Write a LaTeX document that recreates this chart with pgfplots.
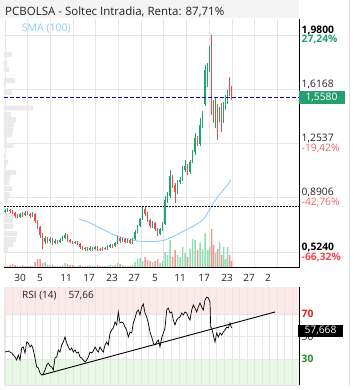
\documentclass[border=0pt]{standalone}
\usepackage{fontspec}
\setmainfont{Open Sans}
\usepackage{pgfplots}
\pgfplotsset{compat=1.18}
\usepackage{pgfplotstable}
\definecolor{cg}{RGB}{30,165,110}
\definecolor{cr}{RGB}{245,75,72}
\definecolor{vg}{RGB}{140,222,178}
\definecolor{vr}{RGB}{246,150,148}
\definecolor{gridc}{RGB}{230,230,230}
\definecolor{profc}{RGB}{234,234,234}
\definecolor{smac}{RGB}{144,202,249}
\definecolor{titlebg}{RGB}{244,244,244}
\definecolor{titletext}{RGB}{34,34,34}
\definecolor{dblue}{RGB}{10,10,210}
\definecolor{pinkband}{RGB}{253,233,234}
\definecolor{greenband}{RGB}{232,250,230}
\definecolor{pctgreen}{RGB}{34,158,110}
\definecolor{pctred}{RGB}{242,100,100}
\definecolor{pctredb}{RGB}{240,70,70}
\definecolor{rsired}{RGB}{230,30,30}
\definecolor{rsigreen}{RGB}{40,140,40}
\definecolor{boxgreen}{RGB}{38,158,112}
\definecolor{bordc}{RGB}{225,225,225}

\pgfplotstableread{
x v
5 1
7.5 1
20 1
25 1
32.5 1
45 5
50 2
55 1
60 1
62.5 2
65 4
75 1
85 1
90 2
95 1
102.5 1
107.5 1
110 2
115 2
117.5 4
122.5 2
127.5 1
132.5 2
135 5
137.5 8
140 9
142.5 6
152.5 5
160 4
162.5 6
165 15
167.5 12
170 27
177.5 12
180 10
182.5 20
185 14
190 18
192.5 28
195 27
200 24
202.5 18
205 34
207.5 17
209.5 20
215.5 14
219.5 25
223.5 20
225.5 8
227.5 20
}\volgreen

\pgfplotstableread{
x v
10 2
12.5 3
15 2
17.5 1
22.5 2
27.5 1
30 1
35 5
37.5 8
40 8
42.5 4
47.5 2
52.5 2
57.5 1
67.5 3
70 2
72.5 2
77.5 1
80 2
82.5 1
87.5 1
92.5 1
97.5 2
100 1
105 1
112.5 1
120 3
125 1
130 1
145 10
147.5 7
150 6
155 6
157.5 8
172.5 10
175 17
187.5 10
197.5 17
211.5 38
213.5 22
217.5 18
221.5 12
229.5 12
231.5 6
}\volred

\pgfplotstableread{
p w
1.849 12
1.789 7
1.749 9
1.675 15
1.645 6
1.594 12
1.490 33
1.447 11
1.413 16
1.380 14
1.343 13
1.309 12
1.276 7
1.239 13
1.165 6
1.128 8
1.098 6
1.057 16
1.024 10
0.990 9
0.950 12
0.910 10
0.870 8
0.816 5
0.769 13
0.735 13
0.695 13
0.648 17
0.608 16
0.574 13
0.541 8
}\profile

\pgfplotsset{
  panel/.style={scale only axis, anchor=south west, xmin=4, xmax=299},
  pricepanel/.style={panel, at={(4pt,-267pt)}, width=295pt, height=248pt, ymin=0.4233, ymax=2.0874},
  rsipanel/.style={panel, at={(4pt,-385pt)}, width=295pt, height=98pt, ymin=6.9, ymax=94},
}

\begin{document}
\begin{tikzpicture}[x=1pt,y=1pt]
\path[use as bounding box] (0,0) rectangle (353,-390);
\fill[titlebg] (0,0) rectangle (299,-18);
\node[anchor=base west,inner sep=0,font=\fontsize{11.5}{13}\selectfont,text=titletext] at (5,-16) {PCBOLSA - Soltec Intradia, Renta: 87,71\%};

% grid + volume profile
\begin{axis}[pricepanel,
  axis line style={draw=none}, tick style={draw=none},
  major tick length=0pt, minor tick length=0pt,
  xtick={20,40,66,89,112,134,155,180,204,227,249,268},
  xticklabels={30,5,11,17,23,27,5,11,17,23,27,2},
  minor xtick={5,27.692,...,299}, xminorgrids,
  ytick={0.524,0.8906,1.2537,1.6168,1.98}, yticklabels={}, ymajorgrids,
  grid style={draw=gridc, line width=0.8pt},
  minor grid style={draw=gridc, line width=0.8pt},
  xticklabel style={font=\fontsize{10}{12}\selectfont, text=titletext, yshift=-3.5pt},
]
\addplot[xbar, bar width=0.033, bar shift=0pt, fill=profc, draw=none] table[x=w,y=p] {\profile};
\end{axis}

% volume
\begin{axis}[panel, at={(4pt,-267pt)}, width=295pt, height=248pt, ymin=0, ymax=248, hide axis]
\addplot[ybar, bar width=1.5, bar shift=0pt, fill=vg, draw=none] table[x=x,y=v] {\volgreen};
\addplot[ybar, bar width=1.5, bar shift=0pt, fill=vr, draw=none] table[x=x,y=v] {\volred};
\end{axis}

% price
\begin{axis}[pricepanel, hide axis, clip=false, unbounded coords=jump]
\addplot[smac, line width=0.9pt, smooth, tension=0.5] coordinates {(79,0.745)(90,0.719)(100,0.685)(110,0.652)(120,0.625)(130,0.611)(137,0.598)(147,0.594)(155,0.594)(163,0.601)(170,0.618)(180,0.652)(190,0.685)(200,0.725)(205,0.759)(210,0.812)(215,0.866)(220,0.913)(225,0.953)(231,1.007)};
\addplot[black, line width=0.8pt, dash pattern=on 1.5pt off 1.5pt] coordinates {(4,0.833) (299,0.833)};
% green wicks (low-high)
\addplot[draw=cg, line width=0.7pt, mark=none] coordinates {
(5,0.786)(5,0.812)(5,nan)
(7.5,0.792)(7.5,0.819)(7.5,nan)
(20,0.752)(20,0.786)(20,nan)
(25,0.766)(25,0.799)(25,nan)
(32.5,0.759)(32.5,0.792)(32.5,nan)
(45,0.578)(45,0.631)(45,nan)
(50,0.584)(50,0.625)(50,nan)
(55,0.578)(55,0.611)(55,nan)
(60,0.584)(60,0.618)(60,nan)
(62.5,0.598)(62.5,0.631)(62.5,nan)
(65,0.611)(65,0.652)(65,nan)
(75,0.578)(75,0.598)(75,nan)
(85,0.531)(85,0.558)(85,nan)
(90,0.531)(90,0.564)(90,nan)
(95,0.537)(95,0.564)(95,nan)
(102.5,0.531)(102.5,0.558)(102.5,nan)
(107.5,0.537)(107.5,0.571)(107.5,nan)
(110,0.551)(110,0.578)(110,nan)
(115,0.558)(115,0.591)(115,nan)
(117.5,0.578)(117.5,0.631)(117.5,nan)
(122.5,0.591)(122.5,0.618)(122.5,nan)
(127.5,0.584)(127.5,0.611)(127.5,nan)
(132.5,0.578)(132.5,0.618)(132.5,nan)
(135,0.605)(135,0.672)(135,nan)
(137.5,0.652)(137.5,0.705)(137.5,nan)
(140,0.692)(140,0.752)(140,nan)
(142.5,0.739)(142.5,0.826)(142.5,nan)
(152.5,0.685)(152.5,0.732)(152.5,nan)
(160,0.638)(160,0.685)(160,nan)
(162.5,0.665)(162.5,0.725)(162.5,nan)
(165,0.705)(165,0.900)(165,nan)
(167.5,0.853)(167.5,0.927)(167.5,nan)
(170,0.886)(170,1.074)(170,nan)
(177.5,0.913)(177.5,1.007)(177.5,nan)
(180,0.980)(180,1.027)(180,nan)
(182.5,1.000)(182.5,1.101)(182.5,nan)
(185,1.061)(185,1.141)(185,nan)
(190,1.047)(190,1.141)(190,nan)
(192.5,1.121)(192.5,1.208)(192.5,nan)
(195,1.175)(195,1.322)(195,nan)
(200,1.235)(200,1.423)(200,nan)
(202.5,1.356)(202.5,1.470)(202.5,nan)
(205,1.504)(205,1.779)(205,nan)
(207.5,1.631)(207.5,1.792)(207.5,nan)
(209.5,1.732)(209.5,1.906)(209.5,nan)
(215.5,1.356)(215.5,1.557)(215.5,nan)
(219.5,1.396)(219.5,1.497)(219.5,nan)
(223.5,1.390)(223.5,1.531)(223.5,nan)
(225.5,1.477)(225.5,1.577)(225.5,nan)
(227.5,1.517)(227.5,1.611)(227.5,nan)};
% red wicks (low-high)
\addplot[draw=cr, line width=0.7pt, mark=none] coordinates {
(10,0.786)(10,0.812)(10,nan)
(12.5,0.779)(12.5,0.806)(12.5,nan)
(15,0.752)(15,0.792)(15,nan)
(17.5,0.752)(17.5,0.779)(17.5,nan)
(22.5,0.759)(22.5,0.792)(22.5,nan)
(27.5,0.772)(27.5,0.799)(27.5,nan)
(30,0.752)(30,0.786)(30,nan)
(35,0.719)(35,0.786)(35,nan)
(37.5,0.678)(37.5,0.739)(37.5,nan)
(40,0.618)(40,0.698)(40,nan)
(42.5,0.544)(42.5,0.652)(42.5,nan)
(47.5,0.584)(47.5,0.625)(47.5,nan)
(52.5,0.571)(52.5,0.618)(52.5,nan)
(57.5,0.578)(57.5,0.605)(57.5,nan)
(67.5,0.591)(67.5,0.645)(67.5,nan)
(70,0.584)(70,0.611)(70,nan)
(72.5,0.578)(72.5,0.598)(72.5,nan)
(77.5,0.571)(77.5,0.598)(77.5,nan)
(80,0.544)(80,0.584)(80,nan)
(82.5,0.537)(82.5,0.564)(82.5,nan)
(87.5,0.531)(87.5,0.558)(87.5,nan)
(92.5,0.531)(92.5,0.558)(92.5,nan)
(97.5,0.531)(97.5,0.564)(97.5,nan)
(100,0.531)(100,0.551)(100,nan)
(105,0.537)(105,0.558)(105,nan)
(112.5,0.551)(112.5,0.578)(112.5,nan)
(120,0.584)(120,0.625)(120,nan)
(125,0.584)(125,0.618)(125,nan)
(130,0.578)(130,0.611)(130,nan)
(145,0.766)(145,0.826)(145,nan)
(147.5,0.725)(147.5,0.792)(147.5,nan)
(150,0.685)(150,0.745)(150,nan)
(155,0.665)(155,0.725)(155,nan)
(157.5,0.631)(157.5,0.685)(157.5,nan)
(172.5,0.953)(172.5,1.041)(172.5,nan)
(175,0.853)(175,0.987)(175,nan)
(187.5,1.041)(187.5,1.114)(187.5,nan)
(197.5,1.235)(197.5,1.302)(197.5,nan)
(211.5,1.443)(211.5,1.980)(211.5,nan)
(213.5,1.390)(213.5,1.544)(213.5,nan)
(217.5,1.276)(217.5,1.517)(217.5,nan)
(221.5,1.329)(221.5,1.524)(221.5,nan)
(229.5,1.571)(229.5,1.698)(229.5,nan)
(231.5,1.544)(231.5,1.638)(231.5,nan)};
% green bodies (open-close)
\addplot[draw=cg, line width=1.7pt, mark=none] coordinates {
(5,0.792)(5,0.799)(5,nan)
(7.5,0.799)(7.5,0.806)(7.5,nan)
(20,0.759)(20,0.779)(20,nan)
(25,0.772)(25,0.786)(25,nan)
(32.5,0.766)(32.5,0.779)(32.5,nan)
(45,0.591)(45,0.618)(45,nan)
(50,0.598)(50,0.611)(50,nan)
(55,0.584)(55,0.598)(55,nan)
(60,0.591)(60,0.605)(60,nan)
(62.5,0.605)(62.5,0.618)(62.5,nan)
(65,0.618)(65,0.638)(65,nan)
(75,0.584)(75,0.591)(75,nan)
(85,0.544)(85,0.551)(85,nan)
(90,0.537)(90,0.551)(90,nan)
(95,0.544)(95,0.558)(95,nan)
(102.5,0.537)(102.5,0.551)(102.5,nan)
(107.5,0.544)(107.5,0.558)(107.5,nan)
(110,0.558)(110,0.571)(110,nan)
(115,0.564)(115,0.584)(115,nan)
(117.5,0.584)(117.5,0.618)(117.5,nan)
(122.5,0.598)(122.5,0.611)(122.5,nan)
(127.5,0.591)(127.5,0.605)(127.5,nan)
(132.5,0.584)(132.5,0.611)(132.5,nan)
(135,0.611)(135,0.658)(135,nan)
(137.5,0.658)(137.5,0.698)(137.5,nan)
(140,0.698)(140,0.745)(140,nan)
(142.5,0.745)(142.5,0.812)(142.5,nan)
(152.5,0.698)(152.5,0.719)(152.5,nan)
(160,0.645)(160,0.678)(160,nan)
(162.5,0.678)(162.5,0.712)(162.5,nan)
(165,0.712)(165,0.873)(165,nan)
(167.5,0.873)(167.5,0.900)(167.5,nan)
(170,0.900)(170,1.034)(170,nan)
(177.5,0.927)(177.5,0.994)(177.5,nan)
(180,0.994)(180,1.007)(180,nan)
(182.5,1.007)(182.5,1.074)(182.5,nan)
(185,1.074)(185,1.101)(185,nan)
(190,1.061)(190,1.128)(190,nan)
(192.5,1.128)(192.5,1.195)(192.5,nan)
(195,1.195)(195,1.289)(195,nan)
(200,1.249)(200,1.376)(200,nan)
(202.5,1.376)(202.5,1.457)(202.5,nan)
(205,1.517)(205,1.745)(205,nan)
(207.5,1.745)(207.5,1.772)(207.5,nan)
(209.5,1.772)(209.5,1.893)(209.5,nan)
(215.5,1.410)(215.5,1.504)(215.5,nan)
(219.5,1.443)(219.5,1.477)(219.5,nan)
(223.5,1.410)(223.5,1.517)(223.5,nan)
(225.5,1.517)(225.5,1.544)(225.5,nan)
(227.5,1.544)(227.5,1.598)(227.5,nan)};
% red bodies (open-close)
\addplot[draw=cr, line width=1.7pt, mark=none] coordinates {
(10,0.806)(10,0.799)(10,nan)
(12.5,0.799)(12.5,0.786)(12.5,nan)
(15,0.786)(15,0.766)(15,nan)
(17.5,0.766)(17.5,0.759)(17.5,nan)
(22.5,0.779)(22.5,0.772)(22.5,nan)
(27.5,0.786)(27.5,0.779)(27.5,nan)
(30,0.779)(30,0.766)(30,nan)
(35,0.779)(35,0.732)(35,nan)
(37.5,0.732)(37.5,0.692)(37.5,nan)
(40,0.692)(40,0.638)(40,nan)
(42.5,0.638)(42.5,0.591)(42.5,nan)
(47.5,0.618)(47.5,0.598)(47.5,nan)
(52.5,0.611)(52.5,0.584)(52.5,nan)
(57.5,0.598)(57.5,0.591)(57.5,nan)
(67.5,0.638)(67.5,0.605)(67.5,nan)
(70,0.605)(70,0.591)(70,nan)
(72.5,0.591)(72.5,0.584)(72.5,nan)
(77.5,0.591)(77.5,0.578)(77.5,nan)
(80,0.578)(80,0.558)(80,nan)
(82.5,0.558)(82.5,0.544)(82.5,nan)
(87.5,0.551)(87.5,0.537)(87.5,nan)
(92.5,0.551)(92.5,0.544)(92.5,nan)
(97.5,0.558)(97.5,0.544)(97.5,nan)
(100,0.544)(100,0.537)(100,nan)
(105,0.551)(105,0.544)(105,nan)
(112.5,0.571)(112.5,0.564)(112.5,nan)
(120,0.618)(120,0.598)(120,nan)
(125,0.611)(125,0.591)(125,nan)
(130,0.605)(130,0.584)(130,nan)
(145,0.812)(145,0.779)(145,nan)
(147.5,0.779)(147.5,0.739)(147.5,nan)
(150,0.739)(150,0.698)(150,nan)
(155,0.719)(155,0.678)(155,nan)
(157.5,0.678)(157.5,0.645)(157.5,nan)
(172.5,1.034)(172.5,0.974)(172.5,nan)
(175,0.974)(175,0.927)(175,nan)
(187.5,1.101)(187.5,1.061)(187.5,nan)
(197.5,1.289)(197.5,1.249)(197.5,nan)
(211.5,1.893)(211.5,1.477)(211.5,nan)
(213.5,1.477)(213.5,1.410)(213.5,nan)
(217.5,1.504)(217.5,1.443)(217.5,nan)
(221.5,1.477)(221.5,1.410)(221.5,nan)
(229.5,1.678)(229.5,1.584)(229.5,nan)
(231.5,1.611)(231.5,1.558)(231.5,nan)};
\addplot[dblue, line width=0.9pt, dash pattern=on 4pt off 2pt] coordinates {(4,1.558) (299,1.558)};
\draw[black, line width=1pt] (rel axis cs:0,0) -- (rel axis cs:1,0) -- (rel axis cs:1,1);
\end{axis}

\node[anchor=base west,inner sep=0,font=\fontsize{10.5}{12}\selectfont,text=smac] at (21.7,-32) {SMA (100)};

% right price labels
\begin{scope}[every node/.style={anchor=base west, inner sep=0, font=\fontsize{10.3}{12}\selectfont}]
\node[text=black, font=\fontsize{10.3}{12}\selectfont\bfseries] at (301.5,-33.7) {1,9800};
\node[text=pctgreen, font=\fontsize{10.3}{12}\selectfont\bfseries] at (301.5,-43) {27,24\%};
\node[text=titletext] at (301.5,-87.7) {1,6168};
\node[text=titletext] at (301.5,-141.7) {1,2537};
\node[text=pctred] at (301.5,-151) {-19,42\%};
\node[text=titletext] at (301.5,-195.7) {0,8906};
\node[text=pctred] at (301.5,-205) {-42,76\%};
\node[text=black, font=\fontsize{10.3}{12}\selectfont\bfseries] at (301.5,-250.5) {0,5240};
\node[text=pctredb, font=\fontsize{10.3}{12}\selectfont\bfseries] at (301.5,-260) {-66,32\%};
\end{scope}
\fill[boxgreen] (298.5,-91) rectangle (344.5,-104);
\node[text=white, inner sep=0, font=\fontsize{10.3}{12}\selectfont] at (321.5,-97.5) {1,5580};

% RSI background bands
\begin{axis}[rsipanel, hide axis]
\fill[pinkband] (axis cs:4,70) rectangle (axis cs:299,94);
\fill[greenband] (axis cs:4,6.9) rectangle (axis cs:299,30);
\end{axis}

% RSI
\begin{axis}[rsipanel,
  axis line style={draw=none}, tick style={draw=none}, major tick length=0pt,
  xtick={5,12.5641,...,299}, xticklabels={},
  ytick={30,50,70}, yticklabels={},
  grid=major, grid style={draw=gridc, line width=0.8pt}, clip=false]
\addplot[black, line width=0.7pt] coordinates {(5,36.2)(8.3,37.1)(11.7,35.3)(15,31.8)(16.7,29.1)(18.3,33.6)(20,29.1)(21.7,39.8)(23.3,40.7)(25,35.3)(26.7,45.1)(28.3,44.2)(30,40.7)(31.7,42.4)(33.3,38.0)(35,30.9)(36.7,22.9)(38.3,22.0)(40,17.6)(41.7,15.8)(43.3,16.7)(45,20.2)(46.7,24.7)(48.3,26.4)(50,23.8)(51.7,22.9)(53.3,20.2)(55,30.9)(56.7,31.8)(58.3,38.0)(60,36.2)(61.7,42.4)(63.3,45.1)(65,49.6)(66.7,44.2)(68.3,40.7)(70,38.0)(71.7,39.8)(73.3,36.2)(75,38.0)(76.7,35.3)(78.3,36.2)(80,31.8)(81.7,30.9)(83.3,29.1)(85,27.3)(86.7,29.1)(88.3,31.8)(90,36.2)(91.7,35.3)(93.3,37.1)(95,40.7)(96.7,38.0)(98.3,36.2)(100,40.7)(101.7,38.0)(103.3,36.2)(105,42.4)(106.7,45.1)(108.3,42.4)(110,53.1)(111.7,55.8)(113.3,57.6)(115,62.9)(116.7,60.2)(118.3,71.8)(120,62.0)(121.7,62.9)(123.3,62.0)(125,58.4)(126.7,55.8)(128.3,49.6)(130,54.0)(131.7,53.1)(133.3,62.0)(135,66.4)(136.7,71.8)(138.3,73.6)(140,69.1)(141.7,76.2)(143.3,78.9)(145,70.9)(146.7,67.3)(148.3,62.0)(150,54.0)(151.7,49.6)(153.3,44.2)(155,42.4)(156.7,45.1)(158.3,46.9)(160,40.7)(161.7,48.7)(163.3,53.1)(165,57.6)(166.7,73.6)(168.3,75.3)(170,70.9)(171.7,71.8)(173.3,64.7)(175,60.2)(176.7,64.7)(178.3,66.4)(180,67.3)(181.7,70.9)(183.3,69.1)(185,71.8)(186.7,70.9)(188.3,67.3)(190,64.7)(191.7,73.6)(193.3,78.0)(195,75.3)(196.7,71.8)(198.3,76.2)(200,79.8)(201.7,76.2)(203.3,73.6)(205,82.4)(206.7,85.1)(208.3,84.2)(210,80.7)(210.7,58.4)(211.7,57.6)(213.3,51.3)(215,45.1)(216.7,53.1)(218.3,49.6)(220,53.1)(221.7,51.3)(223.3,54.0)(225,55.8)(226.7,58.4)(228.3,57.6)(230,62.0)(231.5,57.7)};
\addplot[black, line width=0.9pt] coordinates {(42,15.8) (275,71.8)};
\draw[gridc, line width=0.8pt] (rel axis cs:1,0) -- (rel axis cs:0,0) -- (rel axis cs:0,1);
\draw[black, line width=1pt] (rel axis cs:1,0) -- (rel axis cs:1,1);
\end{axis}

\node[anchor=base west,inner sep=0,font=\fontsize{10}{12}\selectfont,text=titletext] at (22,-298) {RSI (14)};
\node[anchor=base west,inner sep=0,font=\fontsize{10}{12}\selectfont,text=titletext] at (68.3,-298) {57,66};
\node[anchor=base west,inner sep=0,font=\fontsize{10.3}{12}\selectfont\bfseries,text=rsired] at (301.5,-317.6) {70};
\node[anchor=base west,inner sep=0,font=\fontsize{10.3}{12}\selectfont,text=titletext] at (301.5,-340.6) {50};
\node[anchor=base west,inner sep=0,font=\fontsize{10.3}{12}\selectfont\bfseries,text=rsigreen] at (301.5,-362.6) {30};
\fill[black] (298,-325) rectangle (343,-336.5);
\node[text=white, inner sep=0, font=\fontsize{10.3}{12}\selectfont] at (320.5,-330.7) {57,668};

\draw[bordc, line width=0.8pt] (349,0) -- (349,-386);
\end{tikzpicture}
\end{document}
